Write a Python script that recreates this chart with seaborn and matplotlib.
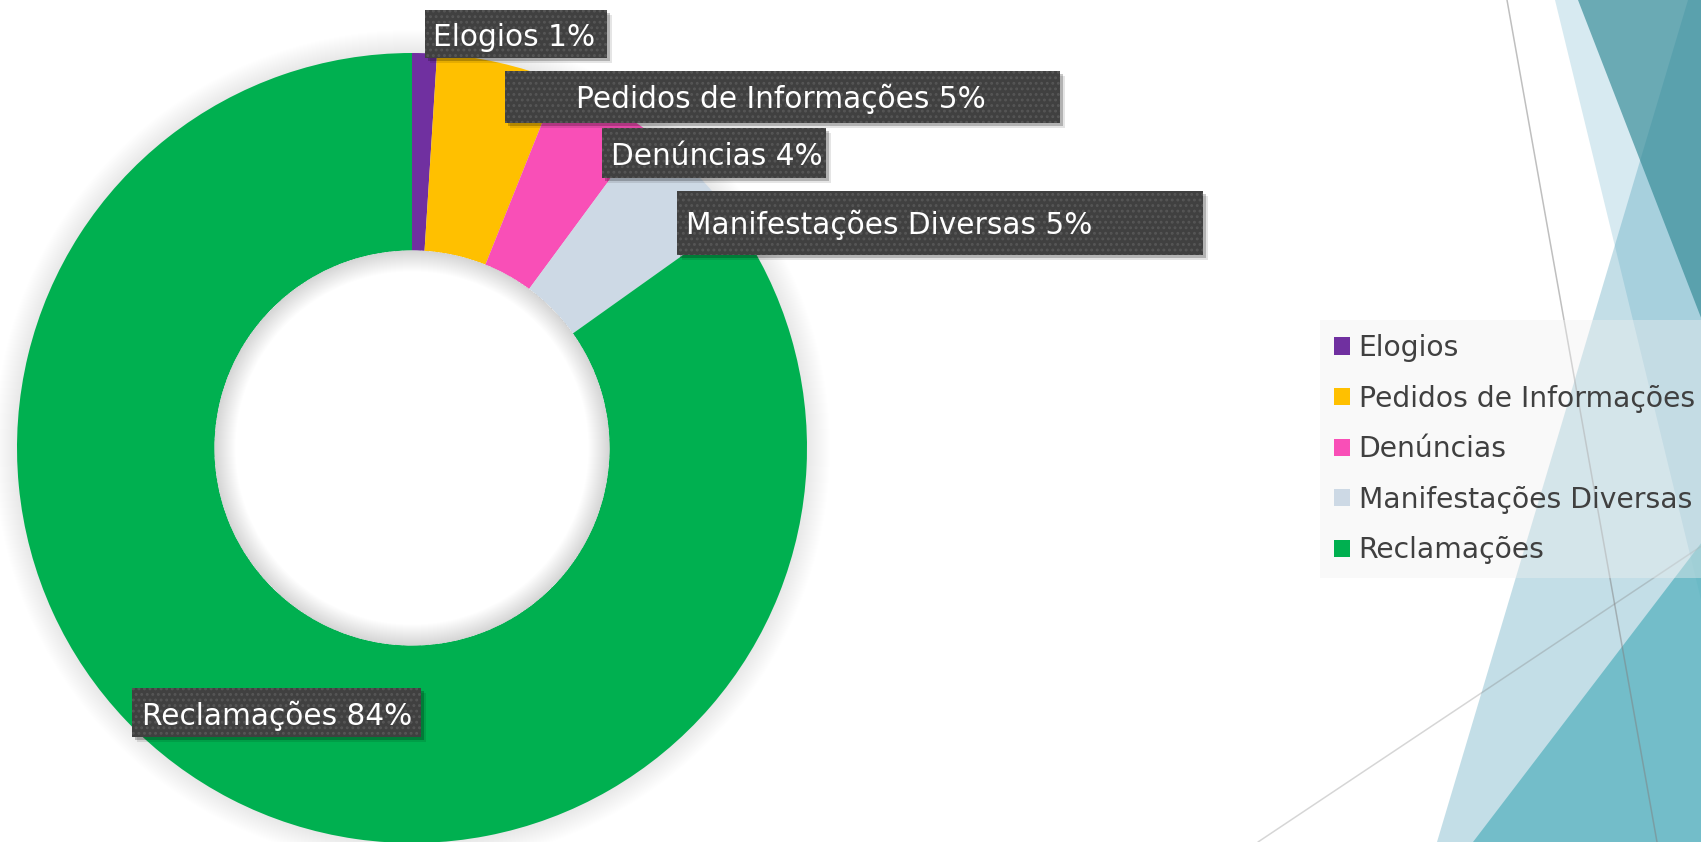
import matplotlib
matplotlib.use('Agg')
import matplotlib.pyplot as plt
import seaborn as sns
from matplotlib.patches import Polygon, Rectangle, Circle, Wedge, Patch

#%% dados
categorias = ['Elogios', 'Pedidos de Informações', 'Denúncias',
              'Manifestações Diversas', 'Reclamações']
percentuais = [1, 5, 4, 5, 84]
cores = ['#7030A0', '#FFC000', '#F94FB7', '#CDD9E5', '#00B050']

#%% layout (pixels, origem no topo)
W, H = 1701, 842

def py(y):
    return H - y

# caixas dos rótulos: x0, y0, x1, y1 e início do texto (x, linha de base)
caixas = [(425, 10, 607, 58), (505, 71, 1060, 123), (602, 128, 826, 178),
          (677, 191, 1203, 255), (132, 688, 421, 737)]
texto_pos = [(433, 46), (576, 108), (611, 165), (686, 234), (142, 725)]

sns.set_theme(style='white')
plt.rcParams['font.family'] = ['DejaVu Sans']
plt.rcParams['hatch.linewidth'] = 1.3

fig = plt.figure(figsize=(W / 100, H / 100), dpi=100)
ax = fig.add_axes([0, 0, 1, 1])

#%% fundo decorativo (triângulos do tema)
fundo = [
    ([(1555, 0), (1760, 0), (1760, 842)], '#9ccbdc', 0.40),
    ([(1688, 0), (1760, 0), (1760, 842), (1437, 842)], '#3a94b2', 0.30),
    ([(1578, 0), (1760, 0), (1760, 470)], '#328995', 0.66),
    ([(1473, 842), (1760, 842), (1760, 466)], '#58b3bf', 0.75),
]
for pts, c, a in fundo:
    ax.add_patch(Polygon([(x, py(y)) for x, y in pts], closed=True,
                         facecolor=c, alpha=a, edgecolor='none', zorder=0.1))

ax.plot([1507, 1657], [py(0), py(842)], color='#808080', alpha=0.5, lw=1.1, zorder=0.2)
ax.plot([1258, 1760], [py(842), py(507)], color='#808080', alpha=0.32, lw=1.1, zorder=0.2)

#%% rosca
cx, cy, R = 412, py(448), 395

# sombra suave em volta do anel
for k in range(1, 24):
    ax.add_patch(Circle((cx, cy), R + k, facecolor='black', alpha=0.0055,
                        edgecolor='none', zorder=0.5))

wedges, _ = ax.pie(percentuais, colors=sns.color_palette(cores), radius=R,
                   center=(cx, cy), startangle=90, counterclock=False,
                   wedgeprops=dict(width=R / 2, linewidth=0))
for w in wedges:
    w.set_zorder(1)

# miolo branco e sombra interna
ax.add_patch(Circle((cx, cy), R / 2, facecolor='white', edgecolor='none', zorder=1.1))
for k in range(1, 22):
    ax.add_patch(Wedge((cx, cy), R / 2, 0, 360, width=k, facecolor='black',
                       alpha=0.006, edgecolor='none', zorder=1.2))

#%% rótulos de dados
rotulos = [f'{c} {p}%' for c, p in zip(categorias, percentuais)]
for (x0, y0, x1, y1), (tx, ty), txt in zip(caixas, texto_pos, rotulos):
    for off, a in [(5, 0.10), (3, 0.22)]:
        ax.add_patch(Rectangle((x0 + off, py(y1) - off), x1 - x0, y1 - y0,
                               facecolor='black', alpha=a, edgecolor='none', zorder=3))
    ax.add_patch(Rectangle((x0, py(y1)), x1 - x0, y1 - y0, facecolor='#404040',
                           edgecolor='#565656', linewidth=0, hatch='...', zorder=3.1))
    ax.text(tx, py(ty), txt, ha='left', va='baseline', color='white', fontsize=21.3,
            zorder=4)

ax.set_xlim(0, W)
ax.set_ylim(0, H)
ax.set_aspect('equal')
ax.axis('off')

#%% legenda
handles = [Patch(facecolor=c, edgecolor='none') for c in cores]
leg = ax.legend(handles, categorias, loc='upper left',
                bbox_to_anchor=(1320 / W, 1 - 320 / H), bbox_transform=fig.transFigure,
                frameon=True, fancybox=False, framealpha=0.4, facecolor='#f0f0f0',
                edgecolor='none', fontsize=20.3, labelspacing=0.80, handlelength=0.57,
                handleheight=0.57, handletextpad=0.3, borderpad=0.5, borderaxespad=0,
                labelcolor='#404040')
leg.get_frame().set_linewidth(0)

fig.savefig('out.png', dpi=100)
